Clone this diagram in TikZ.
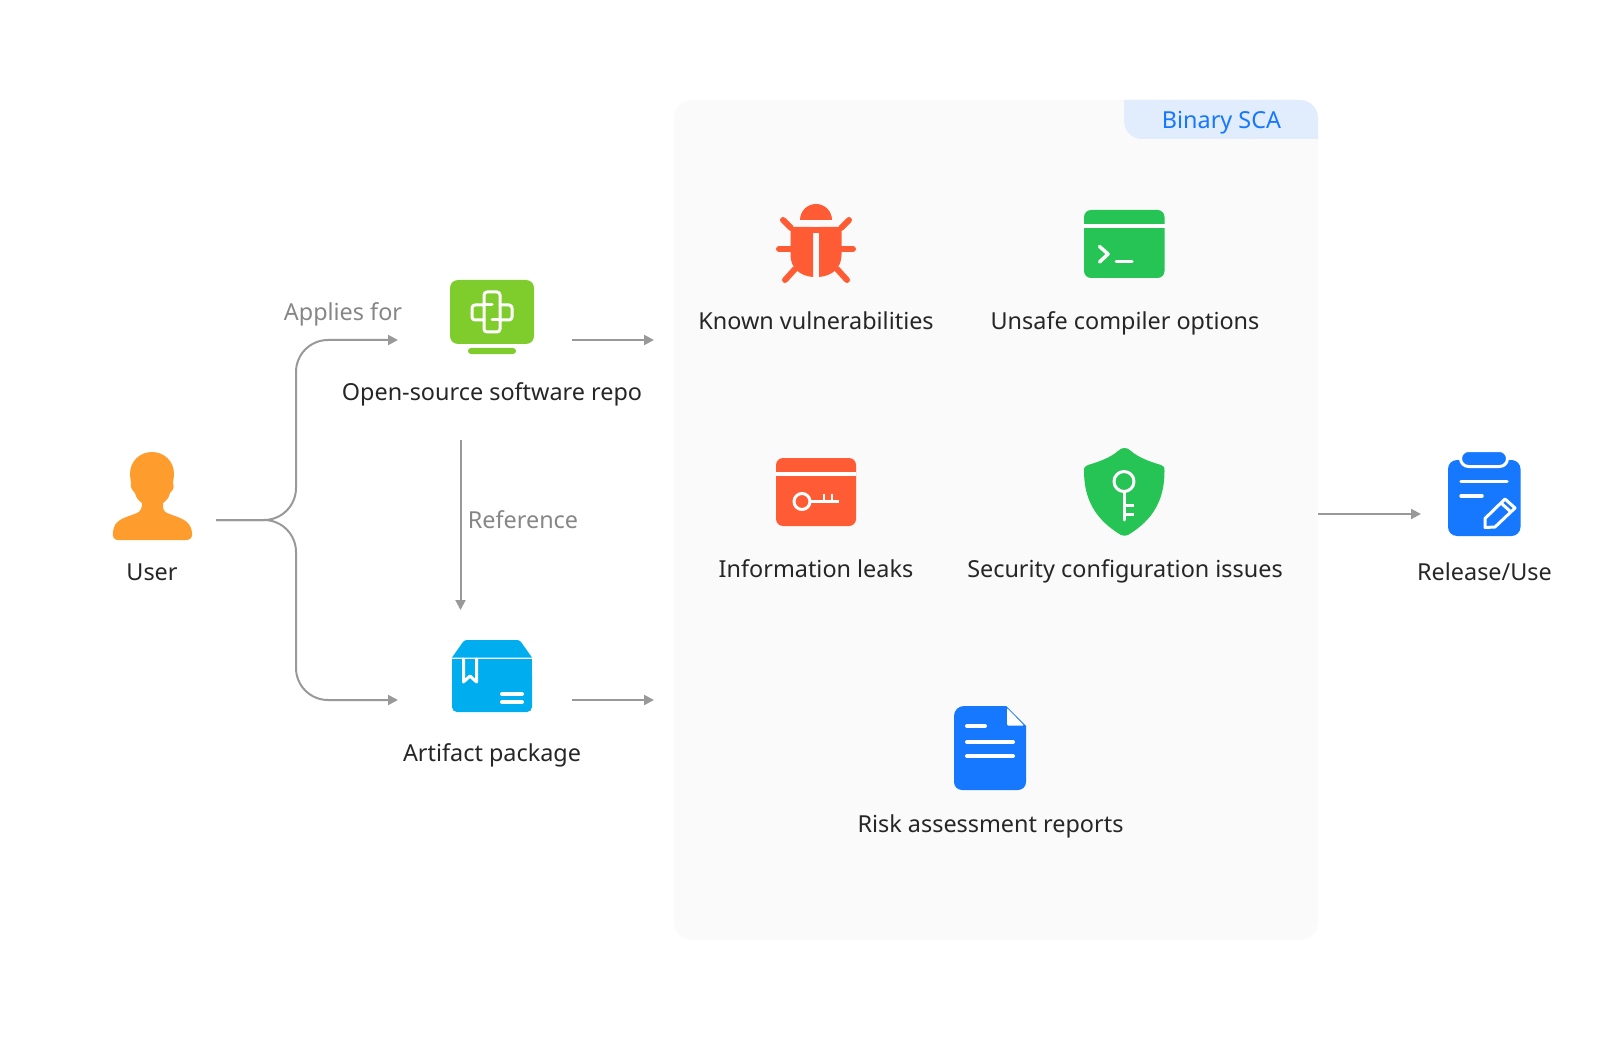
\documentclass[tikz,border=0pt]{standalone}
\usepackage{fontspec}
\usepackage{xcolor}
\usetikzlibrary{arrows.meta}
\setmainfont{Noto Sans}
\definecolor{panelbg}{HTML}{FAFAFA}
\definecolor{tabbg}{HTML}{E1ECFC}
\definecolor{scablue}{HTML}{1677FF}
\definecolor{linegray}{HTML}{999999}
\definecolor{notegray}{HTML}{868686}
\definecolor{labeltext}{HTML}{262626}
\definecolor{userorange}{HTML}{FF9C2E}
\definecolor{repogreen}{HTML}{7FCD2C}
\definecolor{boxblue}{HTML}{00AEF0}
\definecolor{alertred}{HTML}{FF5C35}
\definecolor{safegreen}{HTML}{26C454}
\tikzset{
  caption/.style={text=labeltext,font=\fontsize{23.4}{28}\selectfont,text height=22pt,text depth=5pt,inner sep=0pt},
  note/.style={caption,text=notegray},
  flow/.style={draw=linegray,line width=2pt,-{Triangle[length=10pt,width=10pt]}},
  glyph/.style={draw=white,line cap=round,line join=round,fill=none},
}
\begin{document}
\begin{tikzpicture}[x=1pt,y=-1pt]
        \useasboundingbox (0,0) rectangle (1600,1040);
        %panel and tab
        \fill[panelbg,rounded corners=18] (674,100) rectangle (1318,940);
        \fill[tabbg] (1124,100) -- (1300,100) arc (-90:0:18) -- (1318,139) -- (1142,139) arc (90:180:18) -- cycle;
        \node[caption,text=scablue] (scatitle) at (1221.5,120) {Binary SCA};
        %user
        \fill[userorange] (152,452) .. controls (140,452) and (130,461) .. (130,474)
                .. controls (130,478) and (131,481) .. (131,483)
                .. controls (130,488) and (133,491) .. (135,493)
                .. controls (136,498) and (139,501) .. (142,503)
                .. controls (142,508) and (141,511) .. (137,513)
                .. controls (125,518) and (114,519) .. (113,532)
                .. controls (112,538) and (115,540) .. (118,540)
                -- (186,540) .. controls (190,540) and (193,538) .. (192,532)
                .. controls (190,519) and (179,518) .. (167,513)
                .. controls (163,511) and (163,508) .. (163,503)
                .. controls (166,501) and (169,498) .. (170,493)
                .. controls (172,491) and (175,488) .. (173,483)
                .. controls (173,481) and (174,478) .. (174,474)
                .. controls (174,461) and (164,452) .. (152,452) -- cycle;
        \node[caption] (user) at (152,572) {User};
        %repo
        \fill[repogreen,rounded corners=8] (450,280) rectangle (534,344);
        \fill[repogreen,rounded corners=3] (468,348) rectangle (516,354);
        \draw[glyph,line width=3pt,rounded corners=3] (484,292) rectangle (500,332);
        \draw[glyph,line width=3pt,rounded corners=3] (484,305) -- (472,305) -- (472,320) -- (484,320);
        \draw[glyph,line width=3pt,rounded corners=3] (500,305) -- (512,305) -- (512,320) -- (500,320);
        \draw[glyph,line width=3pt] (484,305) -- (492,305);
        \draw[glyph,line width=3pt] (492,320) -- (500,320);
        \node[caption] (repo) at (492,392) {Open-source software repo};
        %package
        \fill[boxblue] (452,657.5) -- (463,642) .. controls (464,641) and (465,640) .. (467,640)
                -- (517,640) .. controls (519,640) and (520,641) .. (521,642) -- (532,657.5) -- cycle;
        \fill[boxblue,rounded corners=5] (452,670) -- (532,670) -- (532,712) -- (452,712) -- cycle;
        \fill[boxblue] (452,659) rectangle (532,675);
        \draw[glyph,line width=3pt] (463.5,659) -- (463.5,682) -- (470,676) -- (476.5,682) -- (476.5,659);
        \foreach \y in {694,702}
                \draw[glyph,line width=4pt] (502,\y) -- (522,\y);
        \node[caption] (package) at (492,752.5) {Artifact package};
        %bug
        \fill[alertred] (800,220) arc (180:360:16) -- cycle;
        \fill[alertred] (790.5,227) -- (813,227) -- (813,277)
                .. controls (800,276) and (790.5,268) .. (790.5,255) -- cycle;
        \fill[alertred] (841.5,227) -- (819,227) -- (819,277)
                .. controls (832,276) and (841.5,268) .. (841.5,255) -- cycle;
        \fill[alertred] (813,227) rectangle (819,233);
        \foreach \s in {-1,1}
        {
                \draw[alertred,line width=6pt,line cap=round] (816+\s*33,220) -- (816+\s*25,228);
                \draw[alertred,line width=6pt,line cap=round] (816+\s*37,249) -- (816+\s*25,249);
                \draw[alertred,line width=6pt,line cap=round] (816+\s*31,280) -- (816+\s*21,269);
        };
        \node[caption] (vulns) at (816,321) {Known vulnerabilities};
        %terminal
        \fill[safegreen,rounded corners=7] (1084,210) rectangle (1164.5,278);
        \fill[white] (1084,224) rectangle (1164.5,228);
        \draw[glyph,line width=3.5pt] (1099.5,246.5) -- (1108,254) -- (1099.5,262);
        \draw[glyph,line width=3pt] (1116,261.5) -- (1132,261.5);
        \node[caption] (compiler) at (1125,321) {Unsafe compiler options};
        %leak
        \fill[alertred,rounded corners=7] (776,458) rectangle (856,526);
        \fill[white] (776,472) rectangle (856,476);
        \draw[glyph,line width=3pt] (802,501.5) circle (8);
        \draw[glyph,line width=2.5pt,line cap=butt] (810,501.5) -- (839,501.5);
        \foreach \x in {824,832}
                \draw[glyph,line width=2.5pt,line cap=butt] (\x,493.5) -- (\x,501.5);
        \node[caption] (leaks) at (816,569) {Information leaks};
        %shield
        \fill[safegreen] (1124.5,448) .. controls (1122,448) and (1120,449) .. (1118,451)
                .. controls (1110,458) and (1098,462) .. (1088,465)
                .. controls (1085,466) and (1084,467) .. (1084,471)
                .. controls (1084,500) and (1096,520) .. (1121,535)
                .. controls (1123,536) and (1126,536) .. (1128,535)
                .. controls (1153,520) and (1164.5,500) .. (1164.5,471)
                .. controls (1164.5,467) and (1164,466) .. (1161,465)
                .. controls (1151,462) and (1139,458) .. (1131,451)
                .. controls (1129,449) and (1127,448) .. (1124.5,448) -- cycle;
        \draw[glyph,line width=3pt] (1124,481.5) circle (10);
        \draw[glyph,line width=3pt] (1124,492) -- (1124,520);
        \foreach \y in {505,514}
                \draw[glyph,line width=3pt,line cap=butt] (1124,\y) -- (1133.5,\y);
        \node[caption] (config) at (1125,569) {Security configuration issues};
        %report
        \fill[scablue] (964,706) -- (1006,706) -- (1026,726) -- (1026,782) arc (0:90:8) -- (962,790)
                arc (90:180:8) -- (954,716) arc (180:270:10) -- cycle;
        \fill[white,rounded corners=1] (1007,708) -- (1024,725.5) -- (1007,725.5) -- cycle;
        \draw[glyph,line width=4pt] (967,726) -- (985,726);
        \foreach \y in {742,756}
                \draw[glyph,line width=4pt] (967,\y) -- (1013,\y);
        \node[caption] (reports) at (990.5,824) {Risk assessment reports};
        %release
        \fill[scablue,rounded corners=9] (1448,460) rectangle (1520.5,536);
        \draw[white,line width=3pt,fill=scablue,rounded corners=8] (1460.5,450.5) rectangle (1507.5,466.5);
        \draw[glyph,line width=3.5pt] (1461,481.5) -- (1507,481.5);
        \draw[glyph,line width=3.5pt] (1461,496) -- (1482,496);
        \draw[glyph,line width=3pt] (1485,527.5) -- (1485,518.5) -- (1505,499) -- (1515,508) -- (1495,527) -- cycle;
        \draw[glyph,line width=3pt,line cap=butt] (1501,503) -- (1511,512);
        \node[caption] (release) at (1484.5,572) {Release/Use};
        %connectors
        \coordinate (userout) at (216,520);
        \coordinate (forkmid) at (296,520);
        \coordinate (forktop) at (296,340);
        \coordinate (forkbot) at (296,700);
        \coordinate (repoin) at (398,340);
        \coordinate (pkgin) at (398,700);
        \coordinate (repoout) at (572,340);
        \coordinate (pkgout) at (572,700);
        \coordinate (scain) at (654,340);
        \coordinate (scain2) at (654,700);
        \coordinate (reftop) at (460.5,440);
        \coordinate (refbot) at (460.5,610);
        \coordinate (scaout) at (1318,514);
        \coordinate (relin) at (1421,514);
        \draw[flow,rounded corners=32] (userout) -- (forkmid) -- (forktop) -- (repoin);
        \draw[flow,rounded corners=32] (userout) -- (forkmid) -- (forkbot) -- (pkgin);
        \draw[flow] (repoout) -- (scain);
        \draw[flow] (pkgout) -- (scain2);
        \draw[flow] (reftop) -- (refbot);
        \draw[flow] (scaout) -- (relin);
        \node[note] (applies) at (343,312) {Applies for};
        \node[note] (refnote) at (523,520) {Reference};
\end{tikzpicture}
\end{document}
